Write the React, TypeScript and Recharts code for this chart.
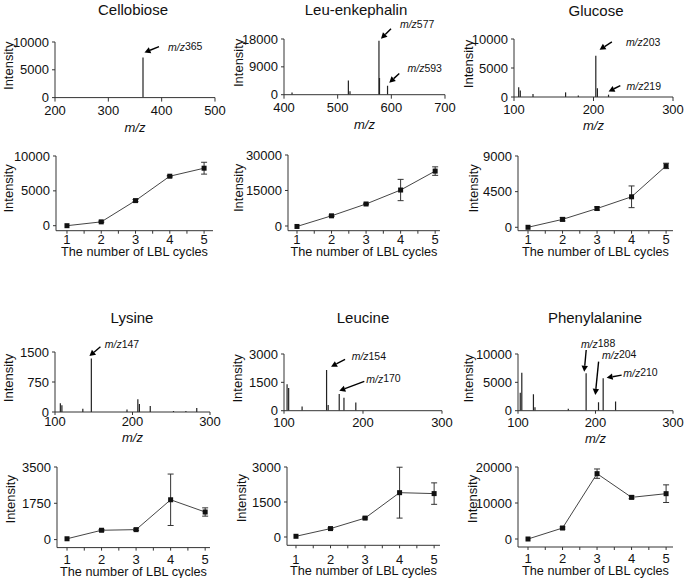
import React from "react";
import {
  ComposedChart,
  Bar,
  Line,
  XAxis,
  YAxis,
  ErrorBar,
  ReferenceDot,
} from "recharts";

const FONT = '"Liberation Sans", Arial, Helvetica, sans-serif';
const INK = "#111";

/* ---------- mass spectra (m/z vs intensity) ---------- */
const cellobioseMz = [365];
const cellobioseIntensity = [7200];

const leuEnkMz = [415, 520, 523, 577, 578, 593];
const leuEnkIntensity = [700, 4600, 1100, 17400, 5400, 2900];

const glucoseMz = [106, 108, 124, 165, 181, 203, 205, 219];
const glucoseIntensity = [1700, 1100, 500, 800, 250, 7100, 1500, 400];

const lysineMz = [107, 109, 136, 147, 193, 207, 209, 223, 253, 269, 283];
const lysineIntensity = [220, 170, 80, 1340, 60, 320, 200, 150, 25, 25, 100];

const leucineMz = [104, 106, 123, 154, 156, 170, 176, 191];
const leucineIntensity = [1400, 1200, 220, 2150, 300, 880, 690, 430];

const pheMz = [103, 105, 120, 122, 165, 188, 204, 210, 226];
const pheIntensity = [3150, 6700, 2900, 600, 350, 6600, 1500, 5700, 1600];

/* labelled peaks */
const cellobioseLabels = [365];
const leuEnkLabels = [577, 593];
const glucoseLabels = [203, 219];
const lysineLabels = [147];
const leucineLabels = [154, 170];
const pheLabels = [188, 204, 210];

/* ---------- intensity vs number of LBL cycles ---------- */
const cycles = [1, 2, 3, 4, 5];
const cellobioseMean = [0, 550, 3600, 7100, 8250];
const cellobioseErr = [0, 100, 150, 100, 850];
const leuEnkMean = [-200, 4300, 9300, 15200, 23200];
const leuEnkErr = [0, 300, 300, 4500, 1800];
const glucoseMean = [0, 1000, 2370, 3850, 7750];
const glucoseErr = [0, 200, 200, 1370, 340];
const lysineMean = [40, 450, 480, 1920, 1330];
const lysineErr = [0, 40, 40, 1240, 200];
const leucineMean = [30, 360, 810, 1900, 1860];
const leucineErr = [0, 30, 40, 1090, 460];
const pheMean = [0, 3050, 18150, 11570, 12590];
const pheErr = [0, 300, 1300, 400, 2450];

const cycleTicks = [1, 1.5, 2, 2.5, 3, 3.5, 4, 4.5, 5];

/* ---------- layout helpers ---------- */
type Box = { x: number; y: number; w: number; h: number };
type Note = { tip: [number, number]; tail: [number, number]; label: [number, number] };

const ML = 60;
const MT = 50; // room above the plot for the m/z call-outs
const MR = 14;
const XH = 46;

const tickStyle = { fontSize: 13, fill: INK, fontFamily: FONT };

const yTitle = (dx: number, dy: number) => (p: any) => {
  const vb = p.viewBox;
  const x = vb.x + ML + dx;
  const y = vb.y + vb.height / 2 + dy;
  return (
    <text
      x={x}
      y={y}
      transform={`rotate(-90 ${x} ${y})`}
      textAnchor="middle"
      dominantBaseline="central"
      fontSize={13}
      fill={INK}
      fontFamily={FONT}
    >
      Intensity
    </text>
  );
};

const xTitle = (content: React.ReactNode, dy: number, italic = false, size = 13) => (p: any) => {
  const vb = p.viewBox;
  return (
    <text
      x={vb.x + vb.width / 2}
      y={vb.y + dy}
      textAnchor="middle"
      fontSize={size}
      fill={INK}
      fontFamily={FONT}
      fontStyle={italic ? "italic" : "normal"}
    >
      {content}
    </text>
  );
};

/* whole cycles get a number, half cycles only a tick mark */
const CycleTick = (p: any) => {
  const v = p.payload?.value;
  if (!Number.isInteger(v)) return <g />;
  return (
    <text x={p.x} y={p.y} dy="0.71em" textAnchor="middle" fontSize={13} fill={INK} fontFamily={FONT}>
      {v}
    </text>
  );
};

const PeakLine = (p: any) => {
  if (p.height == null || p.height <= 0) return <g />;
  const cx = p.x + p.width / 2;
  return <line x1={cx} x2={cx} y1={p.y} y2={p.y + p.height} stroke="#222" strokeWidth={1.2} />;
};

const SquareDot = (p: any) => {
  if (p.cx == null || p.cy == null) return <g key={p.key} />;
  return <rect key={p.key} x={p.cx - 2.5} y={p.cy - 2.5} width={5} height={5} fill={INK} />;
};

function Arrow({ cx, cy, mz, n }: { cx: number; cy: number; mz: number; n: Note }) {
  const tx = cx + n.tip[0];
  const ty = cy + n.tip[1];
  const sx = cx + n.tail[0];
  const sy = cy + n.tail[1];
  const len = Math.hypot(tx - sx, ty - sy) || 1;
  const ux = (tx - sx) / len;
  const uy = (ty - sy) / len;
  const hl = 6;
  const hw = 3.2;
  const bx = tx - ux * hl;
  const by = ty - uy * hl;
  const pts = `${tx},${ty} ${bx - uy * hw},${by + ux * hw} ${bx + uy * hw},${by - ux * hw}`;
  return (
    <g>
      <line x1={sx} y1={sy} x2={bx} y2={by} stroke="#000" strokeWidth={1.4} />
      <polygon points={pts} fill="#000" />
      <text
        x={cx + n.label[0]}
        y={cy + n.label[1]}
        dominantBaseline="central"
        fontSize={10.5}
        fill={INK}
        fontFamily={FONT}
      >
        <tspan fontStyle="italic">m/z</tspan>
        {mz}
      </text>
    </g>
  );
}

/* ---------- spectrum panel ---------- */
interface SpectrumProps {
  box: Box;
  mz: number[];
  intensity: number[];
  labels: number[];
  notes: Note[];
  xDomain: [number, number];
  xTicks: number[];
  yMax: number;
  yTicks: number[];
  gap: [number, number];
  mzTitleDy?: number;
  ylab: [number, number];
}

function Spectrum(props: SpectrumProps) {
  const { box, mz, intensity, labels, notes, xDomain, xTicks, yMax, yTicks, gap, mzTitleDy, ylab } = props;
  const rows = mz.map((m, i) => ({ mz: m, intensity: intensity[i] }));
  const W = box.w + ML + MR;
  const H = box.h + MT + XH;
  return (
    <div style={{ position: "absolute", left: box.x - ML, top: box.y - MT, width: W, height: H }}>
      <ComposedChart width={W} height={H} data={rows} margin={{ top: MT, right: MR, bottom: 0, left: 0 }}>
        <XAxis
          type="number"
          dataKey="mz"
          domain={xDomain}
          ticks={xTicks}
          interval={0}
          allowDataOverflow
          height={XH}
          tickSize={gap[0]}
          tickMargin={gap[1]}
          stroke="#333"
          tick={tickStyle}
          label={mzTitleDy != null ? xTitle("m/z", mzTitleDy, true) : undefined}
        />
        <YAxis
          type="number"
          domain={[0, yMax]}
          ticks={yTicks}
          interval={0}
          allowDataOverflow
          width={ML}
          tickSize={3}
          tickMargin={3}
          stroke="#333"
          tick={tickStyle}
          label={yTitle(ylab[0], ylab[1])}
        />
        <Bar dataKey="intensity" barSize={2} shape={PeakLine} isAnimationActive={false} />
        {labels.map((m, i) => (
          <ReferenceDot
            key={m}
            x={m}
            y={intensity[mz.indexOf(m)]}
            r={0}
            ifOverflow="visible"
            shape={(p: any) => <Arrow cx={p.cx} cy={p.cy} mz={m} n={notes[i]} />}
          />
        ))}
      </ComposedChart>
    </div>
  );
}

/* ---------- LBL cycle panel ---------- */
interface CycleProps {
  box: Box;
  mean: number[];
  err: number[];
  xDomain: [number, number];
  yDomain: [number, number];
  yTicks: number[];
  gap: [number, number];
  titleDy: number;
  ylab: [number, number];
}

function CyclePlot(props: CycleProps) {
  const { box, mean, err, xDomain, yDomain, yTicks, gap, titleDy, ylab } = props;
  const rows = cycles.map((c, i) => ({ cycle: c, mean: mean[i], err: err[i] }));
  const W = box.w + ML + MR;
  const H = box.h + MT + XH;
  return (
    <div style={{ position: "absolute", left: box.x - ML, top: box.y - MT, width: W, height: H }}>
      <ComposedChart width={W} height={H} data={rows} margin={{ top: MT, right: MR, bottom: 0, left: 0 }}>
        <XAxis
          type="number"
          dataKey="cycle"
          domain={xDomain}
          ticks={cycleTicks}
          interval={0}
          allowDataOverflow
          height={XH}
          tickSize={gap[0]}
          tickMargin={gap[1]}
          stroke="#333"
          tick={CycleTick}
          label={xTitle("The number of LBL cycles", titleDy, false, 12.7)}
        />
        <YAxis
          type="number"
          domain={yDomain}
          ticks={yTicks}
          interval={0}
          allowDataOverflow
          width={ML}
          tickSize={3}
          tickMargin={3}
          stroke="#333"
          tick={tickStyle}
          label={yTitle(ylab[0], ylab[1])}
        />
        <Line dataKey="mean" stroke="#444" strokeWidth={1} dot={SquareDot} isAnimationActive={false}>
          <ErrorBar dataKey="err" width={3} stroke="#333" strokeWidth={1} direction="y" isAnimationActive={false} />
        </Line>
      </ComposedChart>
    </div>
  );
}

const Title = ({ text, cx, top }: { text: string; cx: number; top: number }) => (
  <div
    style={{
      position: "absolute",
      left: cx - 100,
      top,
      width: 200,
      textAlign: "center",
      fontSize: 15,
      lineHeight: "18px",
      color: INK,
      fontFamily: FONT,
    }}
  >
    {text}
  </div>
);

export default function App() {
  return (
    <div
      style={{
        position: "absolute",
        left: 0,
        top: 0,
        width: 685,
        height: 578,
        background: "#fff",
        overflow: "hidden",
        fontFamily: FONT,
      }}
    >
      <Title text="Cellobiose" cx={133} top={1} />
      <Title text="Leu-enkephalin" cx={356} top={1} />
      <Title text="Glucose" cx={596} top={2} />
      <Title text="Lysine" cx={132} top={309} />
      <Title text="Leucine" cx={363} top={309} />
      <Title text="Phenylalanine" cx={595} top={309} />

      {/* row 1: spectra */}
      <Spectrum
        box={{ x: 55, y: 41.7, w: 160, h: 55.6 }}
        mz={cellobioseMz}
        intensity={cellobioseIntensity}
        labels={cellobioseLabels}
        notes={[{ tip: [1.5, -5], tail: [16, -11], label: [25, -11] }]}
        xDomain={[200, 500]}
        xTicks={[200, 300, 400, 500]}
        yMax={10000}
        yTicks={[0, 5000, 10000]}
        gap={[4, 4]}
        mzTitleDy={34}
        ylab={[-47, -4]}
      />
      <Spectrum
        box={{ x: 284, y: 39.3, w: 161, h: 55.7 }}
        mz={leuEnkMz}
        intensity={leuEnkIntensity}
        labels={leuEnkLabels}
        notes={[
          { tip: [2, -2], tail: [12, -12], label: [21, -16.6] },
          { tip: [1.7, -3], tail: [11.7, -12.3], label: [20, -17.3] },
        ]}
        xDomain={[400, 700]}
        xTicks={[400, 500, 600, 700]}
        yMax={18000}
        yTicks={[0, 9000, 18000]}
        gap={[4, 4]}
        mzTitleDy={34.5}
        ylab={[-46, -4]}
      />
      <Spectrum
        box={{ x: 514, y: 39.3, w: 159, h: 58 }}
        mz={glucoseMz}
        intensity={glucoseIntensity}
        labels={glucoseLabels}
        notes={[
          { tip: [3.7, -6], tail: [16, -14], label: [30, -14] },
          { tip: [0, -3.3], tail: [11.7, -9], label: [18, -9] },
        ]}
        xDomain={[100, 300]}
        xTicks={[100, 200, 300]}
        yMax={10000}
        yTicks={[0, 5000, 10000]}
        gap={[4, 4]}
        mzTitleDy={32.7}
        ylab={[-46, -4]}
      />

      {/* row 2: LBL cycles */}
      <CyclePlot
        box={{ x: 56, y: 156, w: 157, h: 74.7 }}
        mean={cellobioseMean}
        err={cellobioseErr}
        xDomain={[0.68, 5.26]}
        yDomain={[-717, 10000]}
        yTicks={[0, 5000, 10000]}
        gap={[3, 1]}
        titleDy={25.6}
        ylab={[-48, -5]}
      />
      <CyclePlot
        box={{ x: 288, y: 155, w: 152, h: 75.7 }}
        mean={leuEnkMean}
        err={leuEnkErr}
        xDomain={[0.74, 5.14]}
        yDomain={[-1986, 30000]}
        yTicks={[0, 15000, 30000]}
        gap={[3, 1]}
        titleDy={25.6}
        ylab={[-50, -5]}
      />
      <CyclePlot
        box={{ x: 518, y: 156, w: 155, h: 74.7 }}
        mean={glucoseMean}
        err={glucoseErr}
        xDomain={[0.71, 5.2]}
        yDomain={[-429, 9000]}
        yTicks={[0, 4500, 9000]}
        gap={[3, 1]}
        titleDy={25.6}
        ylab={[-45, -5]}
      />

      {/* row 3: spectra */}
      <Spectrum
        box={{ x: 55, y: 351.7, w: 155, h: 60 }}
        mz={lysineMz}
        intensity={lysineIntensity}
        labels={lysineLabels}
        notes={[{ tip: [-2, -2.3], tail: [9, -11.6], label: [13.3, -14.5] }]}
        xDomain={[100, 300]}
        xTicks={[100, 200, 300]}
        yMax={1500}
        yTicks={[0, 750, 1500]}
        gap={[3, 2]}
        mzTitleDy={30}
        ylab={[-47, -4]}
      />
      <Spectrum
        box={{ x: 284, y: 354, w: 158, h: 56.7 }}
        mz={leucineMz}
        intensity={leucineIntensity}
        labels={leucineLabels}
        notes={[
          { tip: [4.4, -3.3], tail: [18.4, -10.7], label: [25, -14] },
          { tip: [0, -3.3], tail: [25, -12.6], label: [27, -15.3] },
        ]}
        xDomain={[100, 300]}
        xTicks={[100, 200, 300]}
        yMax={3000}
        yTicks={[0, 1500, 3000]}
        gap={[3, 4]}
        ylab={[-46.5, -4]}
      />
      <Spectrum
        box={{ x: 518, y: 354, w: 155, h: 56.7 }}
        mz={pheMz}
        intensity={pheIntensity}
        labels={pheLabels}
        notes={[
          { tip: [-2, -1.6], tail: [0, -23.3], label: [-5.3, -29.5] },
          { tip: [-3.3, -7.3], tail: [0, -40.6], label: [3.4, -47.3] },
          { tip: [3.4, -0.6], tail: [18.4, -3.3], label: [20, -5.5] },
        ]}
        xDomain={[100, 300]}
        xTicks={[100, 200, 300]}
        yMax={10000}
        yTicks={[0, 5000, 10000]}
        gap={[3, 4]}
        mzTitleDy={32}
        ylab={[-50, -4]}
      />

      {/* row 4: LBL cycles */}
      <CyclePlot
        box={{ x: 57, y: 466.7, w: 153, h: 80.6 }}
        mean={lysineMean}
        err={lysineErr}
        xDomain={[0.71, 5.14]}
        yDomain={[-386, 3500]}
        yTicks={[0, 1750, 3500]}
        gap={[3, 4]}
        titleDy={28}
        ylab={[-47, -8]}
      />
      <CyclePlot
        box={{ x: 287, y: 466.7, w: 153, h: 78.3 }}
        mean={leucineMean}
        err={leucineErr}
        xDomain={[0.74, 5.17]}
        yDomain={[-356, 3000]}
        yTicks={[0, 1500, 3000]}
        gap={[3, 6]}
        titleDy={30}
        ylab={[-45, -8]}
      />
      <CyclePlot
        box={{ x: 518, y: 467.3, w: 155, h: 80 }}
        mean={pheMean}
        err={pheErr}
        xDomain={[0.71, 5.2]}
        yDomain={[-2222, 20000]}
        yTicks={[0, 10000, 20000]}
        gap={[3, 4]}
        titleDy={28}
        ylab={[-46, -8]}
      />
    </div>
  );
}
